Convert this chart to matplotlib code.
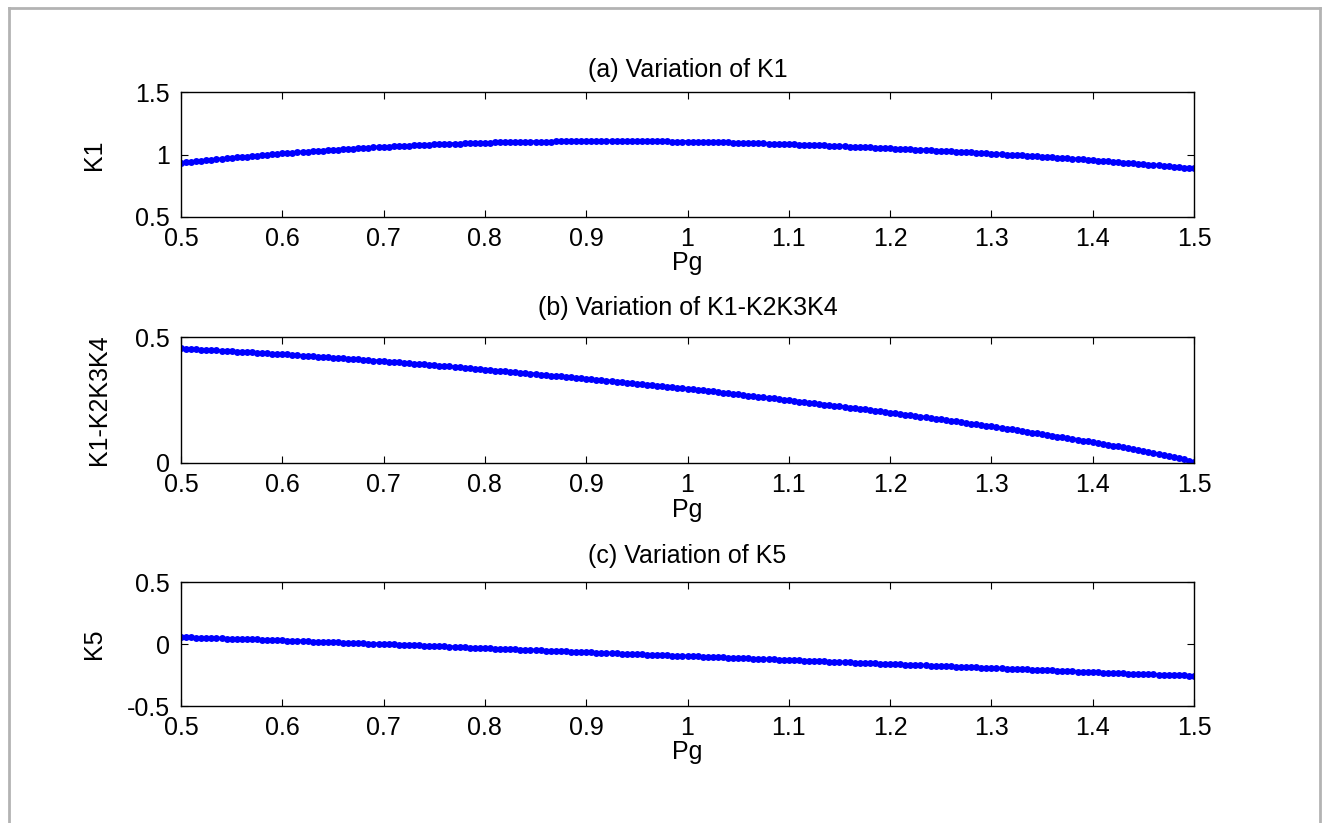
import numpy as np
import matplotlib
matplotlib.use("Agg")
import matplotlib.pyplot as plt
from matplotlib.lines import Line2D

plt.rcParams['font.family'] = ['Liberation Sans', 'DejaVu Sans']
plt.rcParams['axes.unicode_minus'] = False

# ---- data ----
pg = np.round(np.arange(0.5, 1.5001, 0.005), 3)

k1 = [
    0.934, 0.938, 0.942, 0.946, 0.950, 0.954, 0.957, 0.961, 0.965, 0.969,
    0.973, 0.977, 0.980, 0.984, 0.987, 0.991, 0.995, 0.998, 1.002, 1.005,
    1.009, 1.012, 1.015, 1.018, 1.021, 1.024, 1.026, 1.029, 1.032, 1.035,
    1.038, 1.040, 1.043, 1.045, 1.048, 1.050, 1.052, 1.055, 1.057, 1.060,
    1.062, 1.064, 1.066, 1.068, 1.070, 1.072, 1.073, 1.075, 1.077, 1.079,
    1.081, 1.082, 1.084, 1.085, 1.087, 1.088, 1.089, 1.091, 1.092, 1.094,
    1.095, 1.096, 1.097, 1.097, 1.098, 1.099, 1.100, 1.101, 1.101, 1.102,
    1.103, 1.103, 1.104, 1.104, 1.105, 1.105, 1.105, 1.106, 1.106, 1.107,
    1.107, 1.107, 1.108, 1.108, 1.108, 1.108, 1.108, 1.108, 1.107, 1.107,
    1.107, 1.107, 1.106, 1.106, 1.105, 1.105, 1.105, 1.104, 1.104, 1.103,
    1.103, 1.102, 1.101, 1.101, 1.100, 1.099, 1.098, 1.097, 1.097, 1.096,
    1.095, 1.094, 1.093, 1.091, 1.090, 1.089, 1.088, 1.087, 1.085, 1.084,
    1.083, 1.082, 1.080, 1.079, 1.077, 1.076, 1.074, 1.073, 1.071, 1.070,
    1.068, 1.066, 1.064, 1.063, 1.061, 1.059, 1.057, 1.055, 1.054, 1.052,
    1.050, 1.048, 1.046, 1.044, 1.042, 1.040, 1.038, 1.036, 1.034, 1.032,
    1.030, 1.028, 1.026, 1.023, 1.021, 1.019, 1.017, 1.015, 1.012, 1.010,
    1.008, 1.005, 1.003, 1.000, 0.998, 0.995, 0.993, 0.990, 0.988, 0.985,
    0.983, 0.980, 0.977, 0.974, 0.972, 0.969, 0.966, 0.963, 0.961, 0.958,
    0.955, 0.952, 0.949, 0.946, 0.943, 0.940, 0.936, 0.933, 0.930, 0.927,
    0.924, 0.920, 0.917, 0.913, 0.910, 0.906, 0.903, 0.899, 0.896, 0.892,
    0.889,
]

k1_k2k3k4 = [
    0.455, 0.454, 0.453, 0.451, 0.450, 0.449, 0.448, 0.447, 0.445, 0.444,
    0.443, 0.442, 0.441, 0.440, 0.439, 0.438, 0.436, 0.435, 0.434, 0.433,
    0.432, 0.431, 0.429, 0.428, 0.426, 0.425, 0.424, 0.422, 0.421, 0.419,
    0.418, 0.417, 0.415, 0.414, 0.412, 0.411, 0.409, 0.408, 0.406, 0.405,
    0.403, 0.402, 0.400, 0.399, 0.397, 0.396, 0.394, 0.393, 0.391, 0.390,
    0.388, 0.386, 0.385, 0.383, 0.381, 0.380, 0.378, 0.376, 0.374, 0.373,
    0.371, 0.369, 0.367, 0.366, 0.364, 0.362, 0.360, 0.358, 0.357, 0.355,
    0.353, 0.351, 0.349, 0.347, 0.345, 0.344, 0.342, 0.340, 0.338, 0.336,
    0.334, 0.332, 0.330, 0.328, 0.326, 0.325, 0.323, 0.321, 0.319, 0.317,
    0.315, 0.313, 0.311, 0.309, 0.307, 0.305, 0.303, 0.301, 0.299, 0.297,
    0.295, 0.293, 0.290, 0.288, 0.286, 0.284, 0.281, 0.279, 0.277, 0.274,
    0.272, 0.270, 0.267, 0.265, 0.263, 0.261, 0.258, 0.256, 0.254, 0.251,
    0.249, 0.247, 0.244, 0.242, 0.239, 0.237, 0.235, 0.232, 0.230, 0.227,
    0.225, 0.223, 0.220, 0.218, 0.215, 0.213, 0.210, 0.208, 0.205, 0.203,
    0.200, 0.197, 0.195, 0.192, 0.189, 0.187, 0.184, 0.181, 0.178, 0.176,
    0.173, 0.170, 0.167, 0.165, 0.162, 0.159, 0.156, 0.153, 0.151, 0.148,
    0.145, 0.142, 0.139, 0.136, 0.133, 0.130, 0.127, 0.124, 0.121, 0.118,
    0.115, 0.112, 0.109, 0.105, 0.102, 0.099, 0.096, 0.093, 0.089, 0.086,
    0.083, 0.080, 0.076, 0.073, 0.069, 0.066, 0.062, 0.059, 0.055, 0.052,
    0.048, 0.044, 0.039, 0.035, 0.031, 0.027, 0.022, 0.018, 0.014, 0.009,
    0.005,
]

k5 = [
    0.056, 0.055, 0.053, 0.052, 0.051, 0.050, 0.048, 0.047, 0.046, 0.044,
    0.043, 0.042, 0.040, 0.039, 0.038, 0.037, 0.035, 0.034, 0.033, 0.031,
    0.030, 0.028, 0.027, 0.025, 0.024, 0.022, 0.020, 0.019, 0.017, 0.016,
    0.014, 0.013, 0.011, 0.010, 0.008, 0.007, 0.006, 0.004, 0.003, 0.001,
    0.000, -0.002, -0.003, -0.005, -0.007, -0.009, -0.010, -0.012, -0.014, -0.015,
    -0.017, -0.019, -0.020, -0.022, -0.024, -0.026, -0.027, -0.029, -0.031, -0.032,
    -0.034, -0.036, -0.037, -0.039, -0.040, -0.042, -0.044, -0.045, -0.047, -0.048,
    -0.050, -0.052, -0.053, -0.055, -0.056, -0.058, -0.060, -0.061, -0.063, -0.064,
    -0.066, -0.068, -0.069, -0.071, -0.072, -0.074, -0.076, -0.077, -0.079, -0.080,
    -0.082, -0.084, -0.085, -0.087, -0.088, -0.090, -0.091, -0.093, -0.094, -0.096,
    -0.097, -0.099, -0.100, -0.102, -0.103, -0.105, -0.107, -0.108, -0.110, -0.111,
    -0.113, -0.115, -0.116, -0.118, -0.119, -0.121, -0.123, -0.124, -0.126, -0.127,
    -0.129, -0.131, -0.132, -0.134, -0.135, -0.137, -0.139, -0.140, -0.142, -0.143,
    -0.145, -0.147, -0.148, -0.150, -0.151, -0.153, -0.155, -0.156, -0.158, -0.159,
    -0.161, -0.163, -0.164, -0.166, -0.167, -0.169, -0.171, -0.172, -0.174, -0.175,
    -0.177, -0.179, -0.180, -0.182, -0.183, -0.185, -0.187, -0.188, -0.190, -0.191,
    -0.193, -0.195, -0.196, -0.198, -0.200, -0.202, -0.203, -0.205, -0.207, -0.208,
    -0.210, -0.212, -0.213, -0.215, -0.217, -0.219, -0.220, -0.222, -0.224, -0.225,
    -0.227, -0.229, -0.230, -0.232, -0.233, -0.235, -0.236, -0.238, -0.239, -0.241,
    -0.242, -0.244, -0.245, -0.247, -0.248, -0.250, -0.251, -0.253, -0.254, -0.256,
    -0.257,
]

titles = ["(a) Variation of K1", "(b) Variation of K1-K2K3K4", "(c) Variation of K5"]
ylabels = ["K1", "K1-K2K3K4", "K5"]
xlabel = "Pg"
xticks = [0.5, 0.6, 0.7, 0.8, 0.9, 1.0, 1.1, 1.2, 1.3, 1.4, 1.5]
xticklabels = ["0.5", "0.6", "0.7", "0.8", "0.9", "1", "1.1", "1.2", "1.3", "1.4", "1.5"]
ylims = [(0.5, 1.5), (0.0, 0.5), (-0.5, 0.5)]
yticks = [[0.5, 1.0, 1.5], [0.0, 0.5], [-0.5, 0.0, 0.5]]
yticklabels = [["0.5", "1", "1.5"], ["0", "0.5"], ["-0.5", "0", "0.5"]]
series = [k1, k1_k2k3k4, k5]

# ---- layout ----
W, H = 1325, 823
fig = plt.figure(figsize=(W / 100, H / 100), dpi=100)
fig.patch.set_facecolor("white")

# axes boxes in pixels: (left, top, right, bottom)
boxes = [(181, 92, 1194, 217), (181, 337, 1194, 463), (181, 582, 1194, 706)]
title_pads = [10.5, 16, 14]
ylab_x = [-0.074, -0.069, -0.074]

for i in range(3):
    l, t, r, b = boxes[i]
    ax = fig.add_axes([l / W, 1 - b / H, (r - l) / W, (b - t) / H])
    ax.plot(pg, series[i], color=(0, 0, 1), linestyle='-', linewidth=2.2,
            marker='o', markersize=5.0, markeredgewidth=0)
    ax.set_xlim(0.5, 1.5)
    ax.set_ylim(*ylims[i])
    ax.set_xticks(xticks)
    ax.set_xticklabels(xticklabels)
    ax.set_yticks(yticks[i])
    ax.set_yticklabels(yticklabels[i])
    ax.tick_params(direction='in', length=5, width=0.8, top=True, right=True,
                   labelsize=18, colors='black')
    ax.tick_params(axis='x', pad=7)
    ax.tick_params(axis='y', pad=8)
    for s in ax.spines.values():
        s.set_linewidth(1.0)
        s.set_color('black')
    ax.set_title(titles[i], fontsize=18, pad=title_pads[i])
    ax.set_xlabel(xlabel, fontsize=18)
    ax.xaxis.set_label_coords(0.5, -0.275)
    ax.set_ylabel(ylabels[i], fontsize=18)
    ax.yaxis.set_label_coords(ylab_x[i], 0.5)

# gray frame around the figure (left, top, right edges)
gray = '#b3b3b3'
fig.add_artist(Line2D([9 / W, 9 / W], [0, 1 - 8 / H], transform=fig.transFigure, color=gray, linewidth=2))
fig.add_artist(Line2D([9 / W, 1320 / W], [1 - 8 / H, 1 - 8 / H], transform=fig.transFigure, color=gray, linewidth=2))
fig.add_artist(Line2D([1320 / W, 1320 / W], [0, 1 - 8 / H], transform=fig.transFigure, color=gray, linewidth=2))

fig.savefig("out.png", dpi=100)
